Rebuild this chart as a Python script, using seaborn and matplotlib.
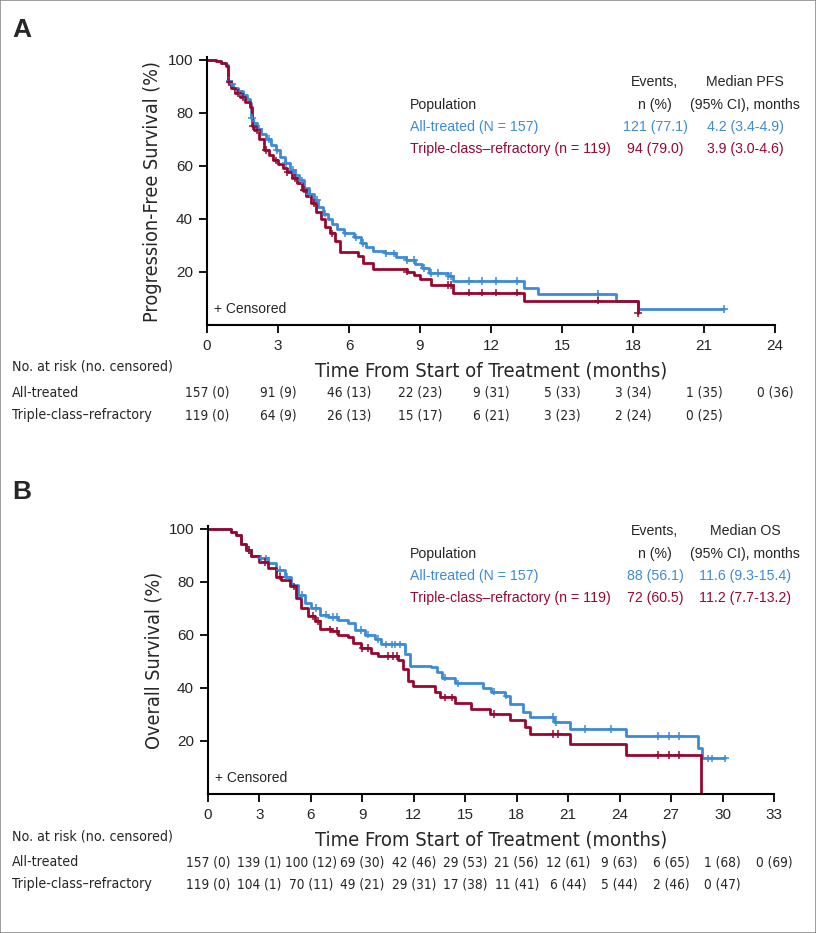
import numpy as np
import pandas as pd
import matplotlib
matplotlib.use('Agg')
import matplotlib.pyplot as plt
import matplotlib.transforms as mtransforms
from matplotlib import font_manager
import seaborn as sns

AZUL = '#3b8bd9'
VINHO = '#99062f'

# PFS - All-treated (meses, % sobrevida, degraus)
pfs_all_t = [0, 0.4, 0.6, 0.8, 0.9, 1.0, 1.1, 1.3, 1.5, 1.7, 1.8, 1.85, 1.95, 2.1, 2.3, 2.5, 2.7, 2.9,
             3.1, 3.3, 3.5, 3.7, 3.9, 4.1, 4.3, 4.5, 4.7, 4.9, 5.1, 5.3, 5.5, 5.8, 6.2, 6.5, 6.7, 7.0,
             7.5, 8.0, 8.4, 8.8, 9.1, 9.4, 10.2, 10.4, 13.4, 14.0, 17.3, 18.2, 21.85]
pfs_all_s = [100, 99.4, 98.7, 98.0, 92.0, 91.0, 89.5, 88.0, 86.5, 85.0, 83.5, 78, 76, 74, 72, 70, 68, 66,
             63.5, 61, 58.5, 56.5, 54.5, 51.5, 49.5, 47, 44.5, 42, 40, 38, 36, 34.5, 33, 31, 29.5, 28,
             27, 25.8, 24.5, 23, 21.5, 19.7, 18.5, 16.6, 14.1, 11.6, 9.1, 6.1, 6.1]
pfs_all_cens = [0.95, 1.05, 1.35, 1.55, 1.9, 2.0, 2.2, 2.6, 2.95, 3.35, 3.65, 4.0, 4.35, 4.65, 5.0,
                5.85, 6.3, 6.6, 7.55, 7.9, 8.45, 8.75, 9.15, 9.45, 9.75, 10.2, 10.3, 11.07, 11.6,
                12.2, 13.1, 16.5, 21.85]

# PFS - Triple-class-refractory
pfs_tcr_t = [0, 0.4, 0.6, 0.8, 0.9, 1.0, 1.2, 1.4, 1.6, 1.8, 1.9, 2.0, 2.2, 2.4, 2.6, 2.8, 3.0, 3.2,
             3.4, 3.6, 3.8, 4.0, 4.2, 4.4, 4.6, 4.8, 5.0, 5.2, 5.4, 5.6, 6.4, 6.6, 7.0, 8.45, 8.75,
             9.0, 9.45, 10.4, 13.4, 18.2]
pfs_tcr_s = [100, 99.4, 98.7, 97.5, 91.5, 89.5, 87.5, 86, 84, 82.2, 75, 73.4, 70, 66, 64, 62, 60.5, 59,
             57.5, 55.5, 53.5, 51, 48.5, 46, 42.5, 40, 37, 34.5, 31.5, 27.5, 25.9, 23.5, 21.2, 20.1, 18.9,
             17.3, 15.1, 12.2, 9.2, 4.6]
pfs_tcr_cens = [0.95, 1.3, 1.5, 1.95, 2.1, 2.5, 2.9, 3.4, 3.7, 4.1, 4.5, 5.3, 8.45, 10.2, 10.3, 11.07,
                11.6, 12.2, 13.1, 16.5, 18.2]

# OS - All-treated
os_all_t = [0, 1.36, 1.65, 1.95, 2.24, 2.53, 3.0, 3.5, 3.99, 4.47, 4.86, 5.25, 5.64, 6.03, 6.52, 7.0,
            7.58, 8.17, 8.55, 9.13, 9.72, 10.11, 11.47, 11.76, 13.0, 13.35, 13.65, 14.4, 16.04, 16.52,
            17.3, 17.6, 18.37, 18.76, 20.2, 21.1, 24.4, 28.57, 28.82, 30.13]
os_all_s = [100, 98.9, 97.5, 94.4, 91.9, 89.7, 88.8, 86.9, 84.4, 81.9, 78.8, 75.1, 72.0, 70.1, 67.6, 66.7,
            65.7, 64.5, 61.8, 60.1, 58.3, 56.4, 52.7, 48.3, 47.7, 45.8, 43.9, 41.7, 40.0, 38.6,
            37.1, 34.0, 30.9, 29.0, 27.1, 24.6, 21.9, 17.5, 13.4, 13.4]
os_all_cens = [2.4, 3.1, 3.4, 4.2, 4.6, 5.5, 6.3, 6.9, 7.3, 7.5, 8.9, 9.3, 9.9, 10.4, 10.7, 10.9, 11.2,
               13.8, 14.6, 16.7, 17.4, 20.1, 20.3, 21.97, 23.5, 26.24, 26.86, 27.45, 29.15, 29.41, 30.13]

# OS - Triple-class-refractory
os_tcr_t = [0, 1.36, 1.65, 1.95, 2.24, 2.53, 3.0, 3.5, 3.99, 4.28, 4.77, 5.15, 5.45, 5.83, 6.22, 6.52,
            7.19, 7.58, 8.17, 8.46, 8.94, 9.52, 9.91, 11.08, 11.37, 11.66, 11.95, 13.25, 13.55, 14.4,
            15.36, 16.43, 17.6, 18.47, 18.76, 21.1, 24.4, 28.75]
os_tcr_s = [100, 98.9, 97.5, 94.4, 91.9, 89.7, 87.5, 85.0, 81.9, 80.7, 78.2, 73.8, 70.1, 67.0, 65.1, 62.0,
            61.4, 60.1, 59.3, 57.0, 55.1, 53.3, 52.0, 50.4, 47.1, 42.7, 40.8, 38.3, 36.4, 34.2,
            32.1, 30.2, 27.7, 25.2, 22.5, 18.8, 14.7, 0]
os_tcr_cens = [2.4, 3.3, 4.2, 5.0, 6.1, 6.4, 7.1, 7.5, 9.0, 9.3, 10.5, 10.8, 11.0, 13.8, 14.2, 16.7,
               20.1, 20.4, 26.24, 26.86, 27.45]

# Tabela de risco
risco_pfs_all = ['157 (0)', '91 (9)', '46 (13)', '22 (23)', '9 (31)', '5 (33)', '3 (34)', '1 (35)', '0 (36)']
risco_pfs_tcr = ['119 (0)', '64 (9)', '26 (13)', '15 (17)', '6 (21)', '3 (23)', '2 (24)', '0 (25)']
risco_os_all = ['157 (0)', '139 (1)', '100 (12)', '69 (30)', '42 (46)', '29 (53)', '21 (56)', '12 (61)',
                '9 (63)', '6 (65)', '1 (68)', '0 (69)']
risco_os_tcr = ['119 (0)', '104 (1)', '70 (11)', '49 (21)', '29 (31)', '17 (38)', '11 (41)', '6 (44)',
                '5 (44)', '2 (46)', '0 (47)']

grupos = ['All-treated', 'Triple-class\u2013refractory']
leg_pfs = [['All-treated (N = 157)', '121 (77.1)', '4.2 (3.4-4.9)'],
           ['Triple-class\u2013refractory (n = 119)', '94 (79.0)', '3.9 (3.0-4.6)']]
leg_os = [['All-treated (N = 157)', '88 (56.1)', '11.6 (9.3-15.4)'],
          ['Triple-class\u2013refractory (n = 119)', '72 (60.5)', '11.2 (7.7-13.2)']]

sns.set_style('ticks')
plt.rcParams['font.family'] = ['Liberation Sans', 'DejaVu Sans']

# fonte estreita (condensada) para eixos e tabela
ESTREITA = font_manager.FontProperties(family='DejaVu Sans', stretch='condensed')

W, H = 816, 933
fig = plt.figure(figsize=(W / 100, H / 100), dpi=100)


def px(x, y):
    return x / W, 1 - y / H


def fonte(tam):
    f = ESTREITA.copy()
    f.set_size(tam)
    return f


def censura(t, s, c):
    t = np.asarray(t)
    s = np.asarray(s)
    idx = np.searchsorted(t, c, side='right') - 1
    return s[idx]


def painel(rect, curvas, xmax, ylabel, legenda, titulo_med, y0):
    ax = fig.add_axes(rect)
    cores = [AZUL, VINHO]
    linhas = []
    pontos = []
    for g, (t, s, c) in zip(grupos, curvas):
        linhas.append(pd.DataFrame({'t': t, 's': s, 'g': g}))
        pontos.append(pd.DataFrame({'t': c, 's': censura(t, s, c), 'g': g}))
    df = pd.concat(linhas)
    dc = pd.concat(pontos)
    sns.lineplot(data=df, x='t', y='s', hue='g', palette=cores, estimator=None, sort=False,
                 drawstyle='steps-post', linewidth=2, legend=False, ax=ax)
    sns.scatterplot(data=dc, x='t', y='s', hue='g', palette=cores, marker='+', s=30,
                    linewidth=1.1, legend=False, ax=ax, zorder=3)
    ax.set_xlim(0, xmax)
    ax.set_ylim(0, 101)
    ax.set_xticks(range(0, xmax + 1, 3))
    ax.set_yticks([20, 40, 60, 80, 100])
    ax.tick_params(labelsize=11, length=6, width=1.3, color='black', pad=4)
    for sp in ['left', 'bottom']:
        ax.spines[sp].set_linewidth(1.5)
        ax.spines[sp].set_color('black')
    sns.despine(ax=ax)
    ax.set_xlabel('Time From Start of Treatment (months)', fontproperties=fonte(14.5), labelpad=6)
    ax.set_ylabel(ylabel, fontproperties=fonte(14.2), labelpad=4)
    ax.text(0.012, 0.06, '+ Censored', transform=ax.transAxes, fontsize=10, va='center')

    # legenda em forma de tabela
    fig.text(*px(410, y0 + 23), 'Population', fontsize=10.2, va='center')
    fig.text(*px(655, y0), 'Events,', fontsize=10.2, va='center', ha='center')
    fig.text(*px(655, y0 + 23), 'n (%)', fontsize=10.2, va='center', ha='center')
    fig.text(*px(745, y0), titulo_med, fontsize=10.2, va='center', ha='center')
    fig.text(*px(745, y0 + 23), '(95% CI), months', fontsize=10.2, va='center', ha='center')
    for i, (linha, cor) in enumerate(zip(legenda, cores)):
        yy = y0 + 45 + 22 * i
        fig.text(*px(410, yy), linha[0], fontsize=10.2, va='center', color=cor)
        fig.text(*px(655, yy), linha[1], fontsize=10.2, va='center', ha='center', color=cor)
        fig.text(*px(745, yy), linha[2], fontsize=10.2, va='center', ha='center', color=cor)
    return ax


def tabela(ax, risco, y_cab):
    tr = mtransforms.blended_transform_factory(ax.transData, fig.transFigure)
    fig.text(*px(12, y_cab), 'No. at risk (no. censored)', fontproperties=fonte(10.2), va='center')
    for i, (nome, valores) in enumerate(zip(grupos, risco)):
        yy = y_cab + 26 + 22 * i
        fig.text(*px(12, yy), nome, fontproperties=fonte(10.2), va='center')
        for k, v in enumerate(valores):
            ax.text(3 * k, 1 - yy / H, v, transform=tr, fontproperties=fonte(9.8),
                    va='center', ha='center')


ax1 = painel([207 / W, 1 - 325 / H, 568 / W, 268 / H],
             [(pfs_all_t, pfs_all_s, pfs_all_cens), (pfs_tcr_t, pfs_tcr_s, pfs_tcr_cens)],
             24, 'Progression-Free Survival (%)', leg_pfs, 'Median PFS', 82)
tabela(ax1, [risco_pfs_all, risco_pfs_tcr], 367)

ax2 = painel([208 / W, 1 - 794 / H, 566 / W, 268 / H],
             [(os_all_t, os_all_s, os_all_cens), (os_tcr_t, os_tcr_s, os_tcr_cens)],
             33, 'Overall Survival (%)', leg_os, 'Median OS', 531)
tabela(ax2, [risco_os_all, risco_os_tcr], 836)

fig.text(*px(12, 30), 'A', fontsize=19, fontweight='bold', va='center')
fig.text(*px(12, 492), 'B', fontsize=19, fontweight='bold', va='center')

# moldura fina
fig.patches.append(plt.Rectangle((0, 0), 1, 1, transform=fig.transFigure, fill=False,
                                 edgecolor='#8c8c8c', linewidth=1.2))

fig.savefig('out.png', dpi=100)
